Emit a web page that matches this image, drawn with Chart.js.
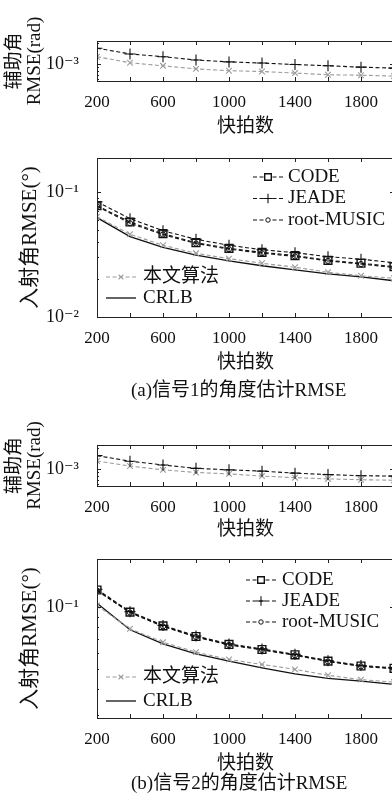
<!DOCTYPE html>
<html>
<head>
<meta charset="utf-8">
<script src="https://cdn.jsdelivr.net/npm/chart.js@4.4.0/dist/chart.umd.min.js"></script>
<style>
html, body { margin: 0; padding: 0; background: #fff; overflow: hidden; width: 392px; height: 809px; }
canvas { position: absolute; left: 0; }
.cap { position: absolute; left: 131px; font: 19px "Liberation Serif", "Noto Sans CJK SC", serif; line-height: 20px; color: #111; white-space: nowrap; }
</style>
</head>
<body>
<canvas id="c1" width="420" height="138" style="top:0px"></canvas>
<canvas id="c2" width="420" height="251" style="top:123px"></canvas>
<div class="cap" style="top:380px">(a)信号1的角度估计RMSE</div>
<canvas id="c3" width="420" height="141" style="top:400px"></canvas>
<canvas id="c4" width="420" height="251" style="top:524px"></canvas>
<div class="cap" style="top:773px">(b)信号2的角度估计RMSE</div>
<script>
// snapshots on the x axis
const snapshots = [200, 400, 600, 800, 1000, 1200, 1400, 1600, 1800, 2000];
const xTickLabels = [200, 600, 1000, 1400, 1800];

// (a) signal 1 - auxiliary angle RMSE (rad)
const auxJeadeA = [1.68e-3, 1.39e-3, 1.27e-3, 1.14e-3, 1.07e-3, 1.03e-3, 0.98e-3, 0.94e-3, 0.90e-3, 0.87e-3];
const auxOursA  = [1.27e-3, 1.04e-3, 0.94e-3, 0.85e-3, 0.80e-3, 0.78e-3, 0.74e-3, 0.70e-3, 0.69e-3, 0.67e-3];
// (a) signal 1 - incidence angle RMSE (deg)
const codeA  = [0.0777, 0.0575, 0.0464, 0.0393, 0.0354, 0.0329, 0.0310, 0.0284, 0.0269, 0.0253];
const jeadeA = [0.0836, 0.0612, 0.0490, 0.0418, 0.0375, 0.0345, 0.0327, 0.0304, 0.0290, 0.0272];
const musicA = [0.0770, 0.0562, 0.0456, 0.0387, 0.0349, 0.0324, 0.0305, 0.0281, 0.0265, 0.0249];
const oursA  = [0.0635, 0.0459, 0.0375, 0.0323, 0.0293, 0.0269, 0.0250, 0.0228, 0.0214, 0.0204];
const crlbA  = [0.0623, 0.0439, 0.0361, 0.0313, 0.0281, 0.0257, 0.0238, 0.0221, 0.0209, 0.0195];

// (b) signal 2 - auxiliary angle RMSE (rad)
const auxJeadeB = [1.55e-3, 1.29e-3, 1.14e-3, 1.02e-3, 0.97e-3, 0.93e-3, 0.87e-3, 0.83e-3, 0.80e-3, 0.79e-3];
const auxOursB  = [1.30e-3, 1.10e-3, 0.97e-3, 0.89e-3, 0.85e-3, 0.79e-3, 0.75e-3, 0.72e-3, 0.70e-3, 0.69e-3];
// (b) signal 2 - incidence angle RMSE (deg)
const codeB  = [0.121, 0.0945, 0.0811, 0.0720, 0.0659, 0.0623, 0.0587, 0.0547, 0.0518, 0.0505];
const jeadeB = [0.122, 0.0950, 0.0815, 0.0724, 0.0663, 0.0627, 0.0590, 0.0550, 0.0521, 0.0508];
const musicB = [0.120, 0.0940, 0.0806, 0.0716, 0.0655, 0.0620, 0.0584, 0.0545, 0.0516, 0.0502];
const oursB  = [0.1017, 0.0785, 0.0676, 0.0605, 0.0557, 0.0527, 0.0499, 0.0467, 0.0445, 0.0433];
const crlbB  = [0.1044, 0.0776, 0.0664, 0.0593, 0.0547, 0.0508, 0.0475, 0.0451, 0.0438, 0.0422];

const serif = '"Liberation Serif", "DejaVu Serif", "Noto Sans CJK SC", serif';
const ink = '#111';
const gray = '#9b9b9b';
const dash = [4, 2.5];

const sup = {'-': '⁻', '0': '⁰', '1': '¹', '2': '²', '3': '³', '4': '⁴', '5': '⁵', '6': '⁶', '7': '⁷', '8': '⁸', '9': '⁹'};
function powLabel(v) {
    const e = String(Math.round(Math.log10(v)));
    return '10' + e.split('').map(c => sup[c]).join('');
}

/* ---- dataset styles ---- */
function codeSet(data) {
    return {label: 'CODE', data, borderColor: ink, borderWidth: 1.1, borderDash: dash,
        pointStyle: 'rect', pointRadius: 5.5, pointBorderWidth: 1.4, pointBorderColor: ink,
        pointBackgroundColor: 'rgba(0,0,0,0)'};
}
function jeadeSet(data) {
    return {label: 'JEADE', data, borderColor: ink, borderWidth: 1.1, borderDash: dash,
        pointStyle: 'cross', pointRadius: 5.5, pointBorderWidth: 1.1, pointBorderColor: ink};
}
function musicSet(data) {
    return {label: 'root-MUSIC', data, borderColor: ink, borderWidth: 1.1, borderDash: dash,
        pointStyle: 'circle', pointRadius: 2.6, pointBorderWidth: 1, pointBorderColor: ink,
        pointBackgroundColor: 'rgba(0,0,0,0)'};
}
function oursSet(data) {
    return {label: '本文算法', data, borderColor: gray, borderWidth: 1.1, borderDash: dash,
        pointStyle: 'crossRot', pointRadius: 4, pointBorderWidth: 1.1, pointBorderColor: gray};
}
function crlbSet(data) {
    return {label: 'CRLB', data, borderColor: ink, borderWidth: 1.3, pointRadius: 0};
}

/* box with inward ticks, like the matlab figure */
const framePlugin = {
    id: 'frame',
    afterDatasetsDraw(chart) {
        const {ctx, chartArea: a} = chart;
        const x = chart.scales.x, y = chart.scales.y;
        ctx.save();
        ctx.strokeStyle = '#222';
        ctx.lineWidth = 1;
        ctx.setLineDash([]);
        ctx.strokeRect(Math.round(a.left) + 0.5, Math.round(a.top) + 0.5, Math.round(a.right - a.left), Math.round(a.bottom - a.top));
        const seg = (x0, y0, x1, y1) => { ctx.beginPath(); ctx.moveTo(x0, y0); ctx.lineTo(x1, y1); ctx.stroke(); };
        for (let v = x.min; v <= x.max; v += 200) {
            const px = Math.round(x.getPixelForValue(v)) + 0.5;
            seg(px, a.bottom, px, a.bottom - 4);
            seg(px, a.top, px, a.top + 4);
        }
        const e0 = Math.floor(Math.log10(y.min)), e1 = Math.ceil(Math.log10(y.max));
        for (let e = e0; e <= e1; e++) {
            for (let k = 1; k < 10; k++) {
                const v = k * Math.pow(10, e);
                if (v < y.min * 0.999 || v > y.max * 1.001) continue;
                const py = Math.round(y.getPixelForValue(v)) + 0.5;
                const len = k === 1 ? 4 : 2;
                seg(a.left, py, a.left + len, py);
                seg(a.right, py, a.right - len, py);
            }
        }
        ctx.restore();
    }
};

/* legend entries placed freely inside the plot */
const boxLegend = {
    id: 'boxLegend',
    afterDraw(chart, args, opts) {
        if (!opts.items) return;
        const ctx = chart.ctx;
        ctx.save();
        ctx.font = '19px ' + serif;
        ctx.textBaseline = 'middle';
        opts.items.forEach(it => {
            const ds = chart.data.datasets[it.ds];
            ctx.strokeStyle = ds.borderColor;
            ctx.lineWidth = ds.borderWidth;
            ctx.setLineDash(ds.borderDash || []);
            ctx.beginPath();
            ctx.moveTo(it.x, it.y);
            ctx.lineTo(it.x + 30, it.y);
            ctx.stroke();
            ctx.setLineDash([]);
            if (ds.pointRadius > 0) {
                ctx.strokeStyle = ds.pointBorderColor;
                ctx.fillStyle = '#fff';
                ctx.lineWidth = ds.pointBorderWidth;
                Chart.helpers.drawPoint(ctx, {pointStyle: ds.pointStyle, radius: ds.pointRadius * 0.85, rotation: 0, borderWidth: ds.pointBorderWidth}, it.x + 15, it.y);
            }
            ctx.fillStyle = ink;
            ctx.fillText(ds.label, it.tx, it.y);
        });
        ctx.restore();
    }
};

// padTop must stay above ~31px, or chart.js pushes the plot area down for the y labels
function drawPlot(id, datasets, yMin, yMax, yTicks, yTitle, titleSize, titlePad, padTop, xHeight, legendItems) {
    return new Chart(document.getElementById(id), {
        type: 'line',
        data: {labels: snapshots, datasets},
        options: {
            responsive: false,
            animation: false,
            devicePixelRatio: 1,
            layout: {padding: {top: padTop, left: 0, right: 26, bottom: 0}},
            elements: {line: {tension: 0, fill: false}},
            plugins: {
                legend: {display: false},
                tooltip: {enabled: false},
                boxLegend: {items: legendItems}
            },
            scales: {
                x: {
                    type: 'linear', min: 200, max: 2000,
                    afterBuildTicks: s => { s.ticks = xTickLabels.map(v => ({value: v})); },
                    afterFit: s => { s.height = xHeight; },
                    grid: {display: false, drawTicks: false},
                    border: {display: false},
                    ticks: {autoSkip: false, maxRotation: 0, padding: 11, color: ink, font: {family: serif, size: 17},
                        callback: v => String(v)},
                    title: {display: true, text: '快拍数', color: ink, padding: 0, font: {family: serif, size: 19, lineHeight: 1.2}}
                },
                y: {
                    type: 'logarithmic', min: yMin, max: yMax,
                    afterBuildTicks: s => { s.ticks = yTicks.map(v => ({value: v})); },
                    afterFit: s => { s.width = 97; },
                    grid: {display: false, drawTicks: false},
                    border: {display: false},
                    ticks: {padding: 18, color: ink, font: {family: serif, size: 18}, callback: v => powLabel(v)},
                    title: {display: true, text: yTitle, color: ink, padding: {top: titlePad, bottom: 0}, font: {family: serif, size: titleSize, lineHeight: 1.05}}
                }
            }
        },
        plugins: [framePlugin, boxLegend]
    });
}

// (a) auxiliary angle
drawPlot('c1', [jeadeSet(auxJeadeA), oursSet(auxOursA)],
    5.7e-4, 2.13e-3, [1e-3], ['辅助角', 'RMSE(rad)'], 19, 5, 41, 57, null);

// (a) incidence angle  (canvas top 123)
drawPlot('c2', [codeSet(codeA), jeadeSet(jeadeA), musicSet(musicA), oursSet(oursA), crlbSet(crlbA)],
    0.01, 0.187, [0.01, 0.1], '入射角RMSE(°)', 21, 19, 35, 57,
    [{ds: 0, x: 253, tx: 288, y: 54}, {ds: 1, x: 253, tx: 288, y: 75.5}, {ds: 2, x: 253, tx: 288, y: 97},
     {ds: 3, x: 106, tx: 143, y: 154}, {ds: 4, x: 106, tx: 143, y: 175}]);

// (b) auxiliary angle
drawPlot('c3', [jeadeSet(auxJeadeB), oursSet(auxOursB)],
    5.7e-4, 2.2e-3, [1e-3], ['辅助角', 'RMSE(rad)'], 19, 5, 45, 55, null);

// (b) incidence angle  (canvas top 524)
drawPlot('c4', [codeSet(codeB), jeadeSet(jeadeB), musicSet(musicB), oursSet(oursB), crlbSet(crlbB)],
    0.029, 0.171, [0.1], '入射角RMSE(°)', 21, 19, 35, 57,
    [{ds: 0, x: 246, tx: 282, y: 56}, {ds: 1, x: 246, tx: 282, y: 77}, {ds: 2, x: 246, tx: 282, y: 98},
     {ds: 3, x: 106, tx: 143, y: 153}, {ds: 4, x: 106, tx: 143, y: 177}]);
</script>
</body>
</html>
